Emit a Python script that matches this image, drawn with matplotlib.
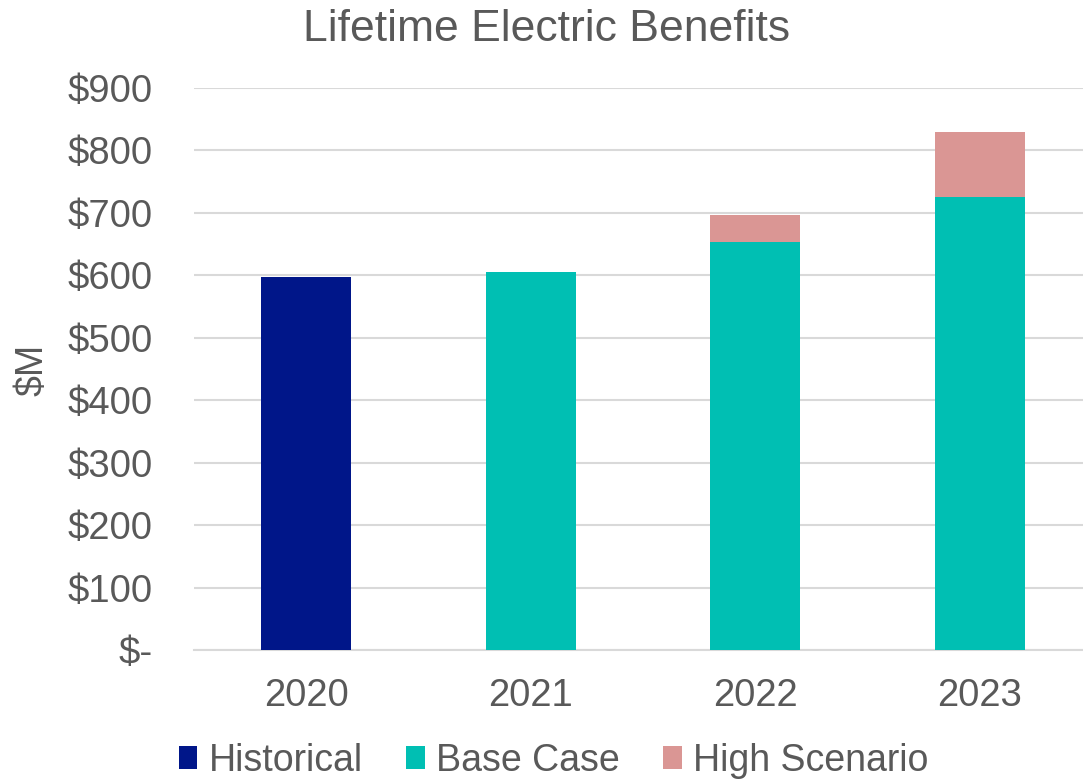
import matplotlib
matplotlib.use('Agg')
import matplotlib.pyplot as plt
import numpy as np
from matplotlib import ticker

years = ['2020', '2021', '2022', '2023']
historical = [597, 0, 0, 0]
base_case = [0, 606, 653, 726]
high_extra = [0, 0, 43, 104]
y_ticks = [0, 100, 200, 300, 400, 500, 600, 700, 800, 900]

c_hist = '#001689'
c_base = '#00BFB3'
c_high = '#DA9694'
c_text = '#595959'

plt.rcParams['font.family'] = ['Liberation Sans', 'DejaVu Sans']

fig = plt.figure(figsize=(10.83, 7.81), dpi=100)
ax = fig.add_axes([194 / 1083, 131 / 781, 889 / 1083, 562 / 781])

ind = np.arange(len(years))
width = 0.4
ax.bar(ind, historical, width, color=c_hist, label='Historical', zorder=3)
ax.bar(ind, base_case, width, color=c_base, label='Base Case', zorder=3)
ax.bar(ind, high_extra, width, bottom=base_case, color=c_high, label='High Scenario', zorder=3)

ax.set_xlim(-0.5, 3.46)
ax.set_ylim(0, 900)
ax.set_yticks(y_ticks)


def fmt_dollar(v, pos=None):
    return '$-' if v == 0 else '$%d' % v


ax.yaxis.set_major_formatter(ticker.FuncFormatter(fmt_dollar))
ax.set_xticks(ind)
ax.set_xticklabels(years)
ax.tick_params(axis='y', length=0, pad=30, labelsize=27.5, labelcolor=c_text)
ax.tick_params(axis='x', length=0, pad=20, labelsize=27.5, labelcolor=c_text)

ax.yaxis.grid(color='#D9D9D9', linestyle='-', linewidth=1.5, zorder=0)
ax.set_axisbelow(True)
for side in ['top', 'right', 'left']:
    ax.spines[side].set_visible(False)
ax.spines['bottom'].set_color('#D9D9D9')
ax.spines['bottom'].set_linewidth(1.5)

fig.text(0.03, 0.526, '$M', rotation=90, fontsize=27, color=c_text, ha='center', va='center')
fig.text(0.505, 0.962, 'Lifetime Electric Benefits', fontsize=32, color=c_text, ha='center', va='center')

leg = fig.legend(loc='center', bbox_to_anchor=(0.511, 0.026), ncol=3, frameon=False,
                 fontsize=27, handlelength=0.5, handleheight=0.55, handletextpad=0.3,
                 columnspacing=1.15, labelcolor=c_text)

fig.savefig('out.png', dpi=100)
plt.close()
